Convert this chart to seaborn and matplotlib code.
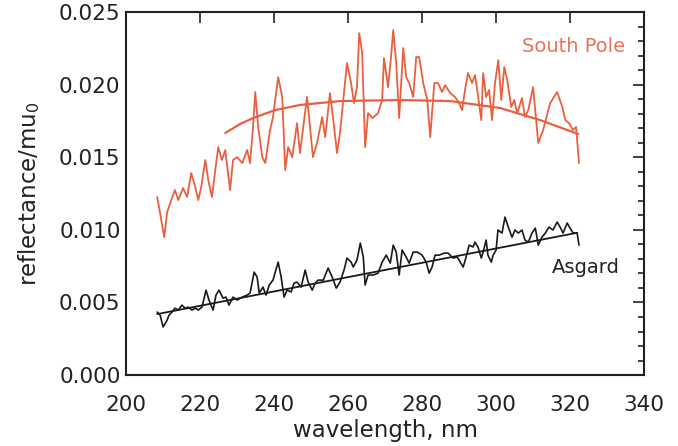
import numpy as np
import pandas as pd
import matplotlib
matplotlib.use("Agg")
import matplotlib.pyplot as plt
import seaborn as sns
from matplotlib.ticker import MultipleLocator

# ---- data ----
sp_wl = [208.4, 208.9, 210.3, 211.1, 212.2, 213.2, 214.1, 215.4, 216.5, 217.6,
         218.7, 219.5, 220.3, 221.4, 222.2, 223.2, 224.1, 224.9, 225.9, 226.8,
         228.1, 228.9, 230.0, 231.4, 232.7, 233.5, 234.3, 234.9, 235.7, 236.8,
         237.6, 238.9, 239.7, 241.1, 242.2, 243.0, 243.8, 244.9, 246.2, 247.0,
         248.9, 249.7, 250.5, 251.6, 253.0, 253.8, 255.1, 256.0, 257.0, 257.8,
         258.7, 259.7, 260.8, 261.6, 262.4, 263.0, 263.8, 264.6, 265.4, 266.6,
         268.1, 269.2, 269.7, 270.8, 271.6, 272.2, 273.0, 273.8, 274.9, 275.7,
         276.5, 277.6, 278.4, 279.2, 280.3, 281.4, 282.2, 283.3, 284.3, 285.4,
         286.2, 287.6, 288.9, 290.0, 290.8, 291.6, 292.4, 293.5, 294.3, 294.9,
         296.0, 296.5, 297.3, 298.1, 298.9, 299.7, 300.6, 301.4, 302.2, 303.0,
         304.1, 304.9, 305.7, 307.0, 307.8, 308.7, 310.0, 311.4, 312.7, 314.6,
         316.5, 317.9, 318.7, 319.7, 320.8, 321.6, 322.2, 322.4]
sp_refl = [0.01226, 0.01157, 0.00950, 0.01123, 0.01205, 0.01274, 0.01205, 0.01288, 0.01226, 0.01391,
           0.01295, 0.01205, 0.01295, 0.01481, 0.01343, 0.01226, 0.01412, 0.01570, 0.01481, 0.01550,
           0.01274, 0.01481, 0.01501, 0.01460, 0.01550, 0.01460, 0.01708, 0.01949, 0.01708, 0.01501,
           0.01460, 0.01687, 0.01777, 0.02052, 0.01915, 0.01412, 0.01570, 0.01501, 0.01735, 0.01529,
           0.01915, 0.01708, 0.01501, 0.01598, 0.01777, 0.01639, 0.01942, 0.01756, 0.01529, 0.01667,
           0.01894, 0.02149, 0.02011, 0.01873, 0.01983, 0.02355, 0.02218, 0.01570, 0.01804, 0.01770,
           0.01804, 0.01894, 0.02183, 0.01983, 0.02190, 0.02376, 0.02149, 0.01770, 0.02252, 0.02052,
           0.02011, 0.01915, 0.02190, 0.02190, 0.02011, 0.01894, 0.01639, 0.02011, 0.02011, 0.01949,
           0.01997, 0.01942, 0.01915, 0.01873, 0.01825, 0.01963, 0.02080, 0.02011, 0.02066, 0.01963,
           0.01756, 0.02080, 0.01915, 0.01963, 0.01756, 0.02011, 0.02169, 0.01894, 0.02121, 0.02032,
           0.01846, 0.01894, 0.01804, 0.01908, 0.01777, 0.01825, 0.01983, 0.01598, 0.01687, 0.01873,
           0.01949, 0.01846, 0.01756, 0.01735, 0.01687, 0.01708, 0.01529, 0.01460]

sp_fit_wl = [226.8, 230.8, 234.3, 240.3, 247.0, 257.8, 274.1, 287.6, 301.1, 311.9, 322.2]
sp_fit_refl = [0.01667, 0.01729, 0.01770, 0.01825, 0.01860, 0.01887, 0.01894, 0.01887, 0.01839, 0.01756, 0.01660]

as_wl = [208.4, 209.2, 210.0, 211.1, 211.6, 212.4, 213.2, 214.1, 215.1, 215.9,
         216.8, 217.8, 218.7, 219.5, 220.5, 221.6, 222.4, 223.5, 224.3, 225.1,
         226.2, 227.0, 227.8, 228.9, 230.0, 231.4, 232.7, 233.5, 234.6, 235.4,
         236.0, 237.0, 237.8, 238.7, 239.7, 241.1, 241.9, 242.7, 243.5, 244.6,
         245.4, 246.2, 247.3, 248.4, 249.2, 250.3, 251.1, 251.9, 253.3, 254.6,
         255.7, 256.8, 257.8, 258.9, 259.7, 260.8, 261.4, 262.4, 263.3, 264.1,
         264.6, 265.4, 266.8, 268.1, 269.2, 270.3, 271.4, 272.2, 273.0, 273.8,
         274.6, 275.7, 276.5, 277.6, 278.7, 280.0, 281.1, 281.9, 282.7, 283.5,
         284.6, 286.0, 287.0, 288.4, 289.5, 290.3, 291.1, 291.9, 292.7, 293.8,
         294.3, 295.1, 296.0, 296.5, 297.3, 297.8, 298.7, 299.2, 300.0, 300.5,
         301.6, 302.4, 303.3, 304.3, 305.1, 306.0, 307.0, 307.8, 308.7, 309.7,
         310.6, 311.4, 312.4, 313.3, 314.3, 315.4, 316.5, 317.3, 318.1, 319.2,
         320.0, 320.8, 321.9, 322.4]
as_refl = [0.00434, 0.00413, 0.00331, 0.00379, 0.00413, 0.00434, 0.00461, 0.00448, 0.00482, 0.00461,
           0.00468, 0.00448, 0.00461, 0.00448, 0.00468, 0.00585, 0.00517, 0.00448, 0.00551, 0.00585,
           0.00530, 0.00537, 0.00482, 0.00537, 0.00517, 0.00537, 0.00551, 0.00565, 0.00709, 0.00675,
           0.00565, 0.00606, 0.00551, 0.00620, 0.00654, 0.00778, 0.00675, 0.00537, 0.00585, 0.00572,
           0.00634, 0.00640, 0.00606, 0.00723, 0.00640, 0.00585, 0.00634, 0.00654, 0.00654, 0.00737,
           0.00675, 0.00599, 0.00640, 0.00723, 0.00806, 0.00778, 0.00744, 0.00792, 0.00909, 0.00813,
           0.00620, 0.00689, 0.00689, 0.00702, 0.00778, 0.00826, 0.00771, 0.00895, 0.00847, 0.00689,
           0.00861, 0.00813, 0.00771, 0.00847, 0.00847, 0.00826, 0.00778, 0.00702, 0.00744, 0.00826,
           0.00826, 0.00840, 0.00840, 0.00806, 0.00813, 0.00778, 0.00744, 0.00813, 0.00895, 0.00882,
           0.00916, 0.00882, 0.00806, 0.00847, 0.00930, 0.00826, 0.00778, 0.00826, 0.00861, 0.00999,
           0.00978, 0.01088, 0.01019, 0.00950, 0.00999, 0.00978, 0.00999, 0.00930, 0.00916, 0.00978,
           0.01012, 0.00895, 0.00950, 0.00978, 0.01019, 0.00999, 0.01054, 0.01019, 0.00978, 0.01047,
           0.01012, 0.00978, 0.00978, 0.00895]

as_fit_wl = [208.4, 321.9]
as_fit_refl = [0.00420, 0.00980]

x_ticks = [200, 220, 240, 260, 280, 300, 320, 340]
y_ticks = [0.000, 0.005, 0.010, 0.015, 0.020, 0.025]

# ---- plotting ----
sns.set_style("white")
plt.rcParams['font.family'] = ['DejaVu Sans']

fig = plt.figure(figsize=(6.78, 4.46), dpi=100)
ax = fig.add_axes([0.186, 0.159, 0.764, 0.814])

red = '#E8603F'
ink = '#222222'
sp = pd.DataFrame({'wl': sp_wl, 'r': sp_refl})
spf = pd.DataFrame({'wl': sp_fit_wl, 'r': sp_fit_refl})
asg = pd.DataFrame({'wl': as_wl, 'r': as_refl})
asf = pd.DataFrame({'wl': as_fit_wl, 'r': as_fit_refl})

sns.lineplot(data=sp, x='wl', y='r', ax=ax, color=red, lw=1.3, sort=False, estimator=None)
sns.lineplot(data=spf, x='wl', y='r', ax=ax, color=red, lw=1.6, sort=False, estimator=None)
sns.lineplot(data=asg, x='wl', y='r', ax=ax, color='#1a1a1a', lw=1.2, sort=False, estimator=None)
sns.lineplot(data=asf, x='wl', y='r', ax=ax, color='#1a1a1a', lw=1.3, sort=False, estimator=None)

ax.text(321.0, 0.0226, 'South Pole', color='#E9735A', fontsize=14, ha='center', va='center')
ax.text(324.2, 0.0074, 'Asgard', color=ink, fontsize=14, ha='center', va='center')

ax.set_xlim(200, 340)
ax.set_ylim(0, 0.025)
ax.set_xticks(x_ticks)
ax.set_yticks(y_ticks)
ax.set_xticklabels([str(t) for t in x_ticks])
ax.set_yticklabels([f"{t:.3f}" for t in y_ticks])
ax.yaxis.set_minor_locator(MultipleLocator(0.001))
ax.tick_params(axis='both', which='both', direction='in', top=True, right=True,
               labelsize=15.5, colors=ink, width=1.2)
ax.tick_params(axis='both', which='major', length=8)
ax.tick_params(axis='x', which='major', pad=14)
ax.tick_params(axis='y', which='major', pad=4)
ax.tick_params(axis='y', which='minor', length=4)
for s in ax.spines.values():
    s.set_linewidth(1.5)
    s.set_color(ink)

ax.set_xlabel('wavelength, nm', fontsize=16.5, color=ink, labelpad=3)
ax.set_ylabel('reflectance/mu$_0$', fontsize=16.5, color=ink, labelpad=12)

fig.savefig('out.png', dpi=100, facecolor='white')
